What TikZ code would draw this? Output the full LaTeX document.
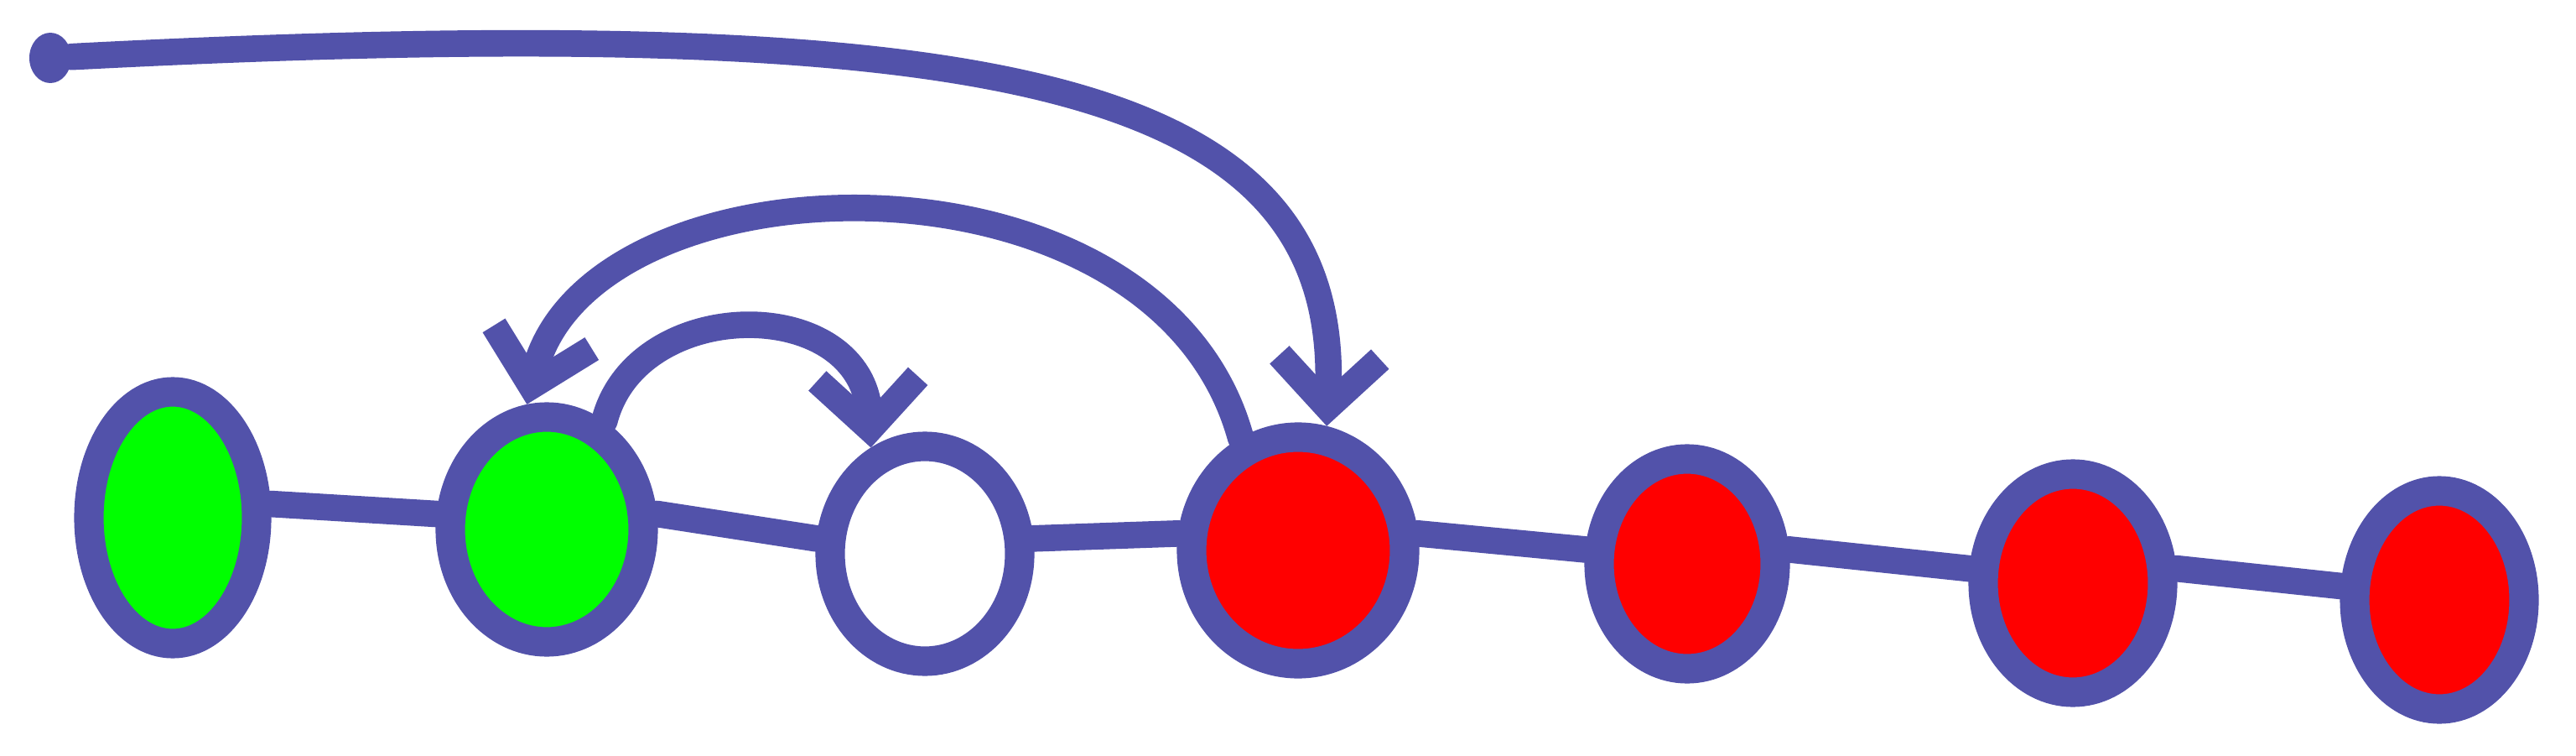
\documentclass[tikz,border=0pt]{standalone}
\usetikzlibrary{shapes.geometric,arrows.meta}
\definecolor{ink}{RGB}{82,82,170}
\definecolor{leaf}{RGB}{0,255,0}
\definecolor{hot}{RGB}{255,0,0}
\tikzset{
  ball/.style={ellipse, draw=ink, line width=10pt, inner sep=0pt},
  wire/.style={ink, line width=9pt, line cap=round},
  jump/.style={wire, -{Straight Barb[length=6mm,width=12mm]}},
}
\begin{document}
\begin{tikzpicture}
    \useasboundingbox (0,0) rectangle (30.72,9);
    % Knoten
    \node[ball, fill=leaf, minimum width=2.0cm, minimum height=3.0cm] (n1) at (2.06,2.83) {};
    \node[ball, fill=leaf, minimum width=2.3cm, minimum height=2.68cm] (n2) at (6.52,2.69) {};
    \node[ball, fill=white, minimum width=2.26cm, minimum height=2.56cm] (n3) at (11.03,2.40) {};
    \node[ball, fill=hot, minimum width=2.54cm, minimum height=2.7cm] (n4) at (15.48,2.44) {};
    \node[ball, fill=hot, minimum width=2.1cm, minimum height=2.5cm] (n5) at (20.12,2.28) {};
    \node[ball, fill=hot, minimum width=2.14cm, minimum height=2.6cm] (n6) at (24.72,2.05) {};
    \node[ball, fill=hot, minimum width=2.02cm, minimum height=2.6cm] (n7) at (29.09,1.85) {};
    \node[ellipse, fill=ink, minimum width=0.5cm, minimum height=0.6cm, inner sep=0pt] (start) at (0.6,8.31) {};
    % Kette
    \foreach \a/\b in {n1/n2, n2/n3, n3/n4, n4/n5, n5/n6, n6/n7}
        \draw[wire] (\a.8) -- (\b.172);
    % Spruenge
    \draw[jump] (start) .. controls (12,8.9) and (16,8) .. (n4.77);
    \draw[jump] (n4.117) .. controls (13.8,7.4) and (7,7.2) .. (n2.99);
    \draw[jump] (n2.62) .. controls (7.6,5.5) and (10.3,5.5) .. (n3.117);
\end{tikzpicture}
\end{document}
